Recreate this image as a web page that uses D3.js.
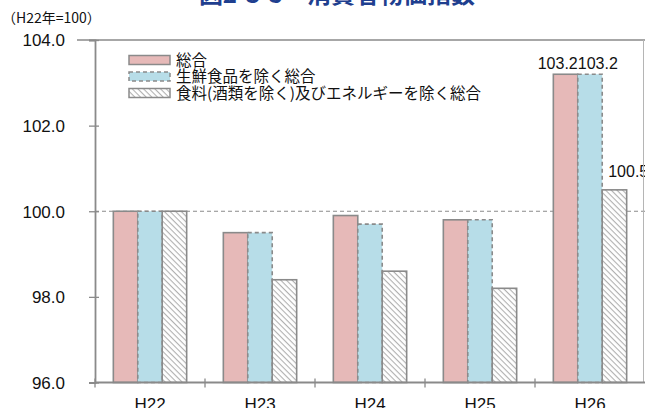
<!DOCTYPE html>
<html>
<head>
<meta charset="utf-8">
<script src="https://cdn.jsdelivr.net/npm/d3@7"></script>
<style>
  html, body { margin: 0; padding: 0; background: #fff; overflow: hidden; }
  svg { display: block; }
  .num { font-family: "Liberation Sans Narrow", "Liberation Sans", Arial, sans-serif; }
  .jp { font-family: "Noto Sans CJK JP", "Noto Sans", sans-serif; }
</style>
</head>
<body>
<svg id="chart" width="645" height="408"></svg>
<script>
// Consumer price index by fiscal year (H22 = 100)
const categories = ["H22", "H23", "H24", "H25", "H26"];
const seriesNames = ["総合", "生鮮食品を除く総合", "食料(酒類を除く)及びエネルギーを除く総合"];
const totalIndex = [100.0, 99.5, 99.9, 99.8, 103.2];
const coreIndex = [100.0, 99.5, 99.7, 99.8, 103.2];
const coreCoreIndex = [100.0, 98.4, 98.6, 98.2, 100.5];
const yTicks = [96, 98, 100, 102, 104];
const labeledCategory = "H26";

const seriesValues = [totalIndex, coreIndex, coreCoreIndex];

const svg = d3.select("#chart");
const plot = { left: 95, right: 645, top: 40, bottom: 382.5 };

const x = d3.scaleBand().domain(categories).range([plot.left, plot.right]).paddingInner(0).paddingOuter(0);
const xs = d3.scaleBand().domain(d3.range(seriesNames.length)).range([0, x.bandwidth()]).paddingInner(0).paddingOuter(0.75);
const y = d3.scaleLinear().domain([96, 104]).range([plot.bottom, plot.top]);

// hatch pattern for the third series
const defs = svg.append("defs");
const pat = defs.append("pattern")
  .attr("id", "hatch").attr("patternUnits", "userSpaceOnUse")
  .attr("width", 4).attr("height", 4)
  .attr("patternTransform", "rotate(45)");
pat.append("rect").attr("width", 4).attr("height", 4).attr("fill", "#fff");
pat.append("line").attr("x1", 0).attr("y1", 0).attr("x2", 4).attr("y2", 0)
  .attr("stroke", "#b0b0b0").attr("stroke-width", 2.2);

const styles = [
  { fill: "#e6b9b8", stroke: "#8a8a8a", dash: null },
  { fill: "#b7dde8", stroke: "#8a8a8a", dash: "4,3" },
  { fill: "url(#hatch)", stroke: "#8a8a8a", dash: null }
];

// title (runs off the top edge)
svg.append("text").attr("class", "jp")
  .attr("x", 337).attr("y", 3)
  .attr("text-anchor", "middle")
  .attr("font-size", 24).attr("font-weight", "bold")
  .attr("fill", "#1f3f8f")
  .text("図2-3-5　消費者物価指数");

// unit labels
svg.append("text").attr("class", "jp")
  .attr("x", 2).attr("y", 23)
  .attr("font-size", 14).attr("fill", "#111")
  .text("（H22年=100）");
svg.append("text").attr("class", "jp")
  .attr("x", 638).attr("y", 23)
  .attr("font-size", 14).attr("fill", "#111")
  .text("（%）");

// reference line at 100
svg.append("line")
  .attr("x1", plot.left).attr("x2", plot.right)
  .attr("y1", y(100)).attr("y2", y(100))
  .attr("stroke", "#8a8a8a").attr("stroke-width", 1.2)
  .attr("stroke-dasharray", "4,3");

// bars
const groups = svg.append("g").selectAll("g")
  .data(categories)
  .join("g")
  .attr("transform", d => `translate(${x(d)},0)`);

groups.selectAll("rect")
  .data((c, ci) => seriesValues.map((vals, si) => ({ si, value: vals[ci], cat: c })))
  .join("rect")
  .attr("x", d => xs(d.si))
  .attr("width", xs.bandwidth())
  .attr("y", d => y(d.value))
  .attr("height", d => y(96) - y(d.value))
  .attr("fill", d => styles[d.si].fill)
  .attr("stroke", d => styles[d.si].stroke)
  .attr("stroke-width", 1.6)
  .attr("stroke-dasharray", d => styles[d.si].dash);

// value labels for the latest year
const ci = categories.indexOf(labeledCategory);
const labelData = seriesValues.map((vals, si) => ({ si, value: vals[ci] }));
const labelAnchor = ["end", "start", "start"];
const labelX = si => {
  const left = x(labeledCategory) + xs(si);
  if (si === 0) return left + xs.bandwidth();
  if (si === 1) return left;
  return left + 6;
};
const labelDy = [-5, -5, -13];
svg.append("g").selectAll("text")
  .data(labelData)
  .join("text")
  .attr("class", "num")
  .attr("x", d => labelX(d.si))
  .attr("y", d => y(d.value) + labelDy[d.si])
  .attr("text-anchor", d => labelAnchor[d.si])
  .attr("font-size", 16).attr("fill", "#111")
  .text(d => d.value.toFixed(1));

// frame: top and right edges
svg.append("line").attr("x1", plot.left - 18).attr("x2", plot.right)
  .attr("y1", plot.top).attr("y2", plot.top)
  .attr("stroke", "#8a8a8a").attr("stroke-width", 1.5);
svg.append("line").attr("x1", plot.right - 1.5).attr("x2", plot.right - 1.5)
  .attr("y1", plot.top).attr("y2", plot.bottom)
  .attr("stroke", "#b5b5b5").attr("stroke-width", 1);

// y axis
const yAxis = d3.axisLeft(y).tickValues(yTicks).tickFormat(d3.format(".1f")).tickSize(6).tickPadding(24);
const gy = svg.append("g").attr("transform", `translate(${plot.left},0)`).call(yAxis);
gy.select(".domain").attr("stroke", "#8a8a8a").attr("stroke-width", 1.8);
gy.selectAll(".tick line").attr("stroke", "#8a8a8a").attr("stroke-width", 1.3).attr("x2", -6).attr("x1", 4);
gy.selectAll(".tick text").attr("class", "num").attr("font-size", 17).attr("fill", "#111").attr("dy", "0.35em");

// x axis
const gx = svg.append("g").attr("transform", `translate(0,${plot.bottom})`);
gx.append("line").attr("x1", plot.left).attr("x2", plot.right)
  .attr("stroke", "#8a8a8a").attr("stroke-width", 1.8);
gx.selectAll("line.tk")
  .data(categories)
  .join("line").attr("class", "tk")
  .attr("x1", d => x(d)).attr("x2", d => x(d))
  .attr("y1", -4).attr("y2", 5)
  .attr("stroke", "#8a8a8a").attr("stroke-width", 1.3);
gx.selectAll("text")
  .data(categories)
  .join("text")
  .attr("class", "num")
  .attr("x", d => x(d) + x.bandwidth() / 2)
  .attr("y", 27)
  .attr("text-anchor", "middle")
  .attr("font-size", 17).attr("fill", "#111")
  .text(d => d);

// legend
const legend = svg.append("g").attr("transform", "translate(129,0)");
const legendY = [60, 76.5, 93];
seriesNames.forEach((name, si) => {
  legend.append("rect")
    .attr("x", 0).attr("y", legendY[si] - 4.5)
    .attr("width", 41).attr("height", 9)
    .attr("fill", styles[si].fill)
    .attr("stroke", styles[si].stroke).attr("stroke-width", 1.5)
    .attr("stroke-dasharray", styles[si].dash);
  legend.append("text").attr("class", "jp")
    .attr("x", 47).attr("y", legendY[si])
    .attr("dy", "0.36em")
    .attr("font-size", 15.5).attr("fill", "#111")
    .text(name);
});
</script>
</body>
</html>
